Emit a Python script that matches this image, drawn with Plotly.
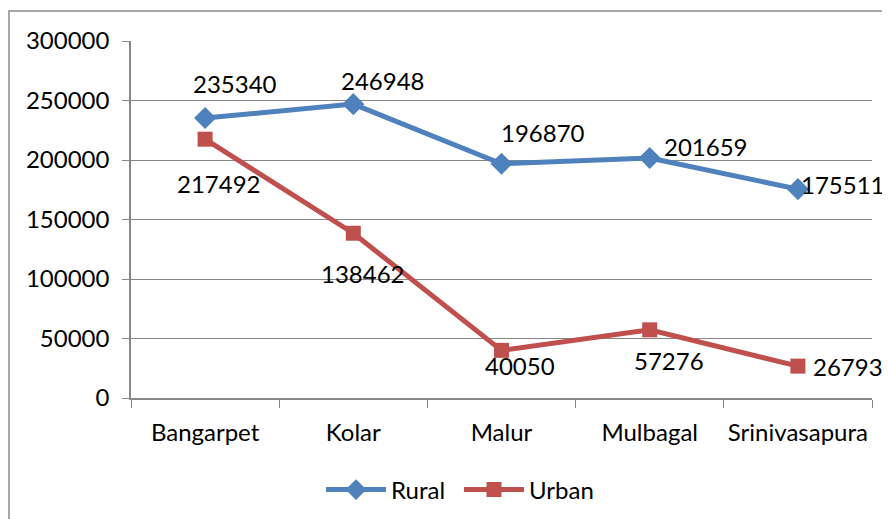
import plotly.graph_objects as go

categories = ["Bangarpet", "Kolar", "Malur", "Mulbagal", "Srinivasapura"]
rural = [235340, 246948, 196870, 201659, 175511]
urban = [217492, 138462, 40050, 57276, 26793]
y_ticks = [0, 50000, 100000, 150000, 200000, 250000, 300000]

BLUE = "#4F81BD"
RED = "#C0504D"
GRID = "#878787"
FONT = "Lato"
FS = 24

# figure-pixel geometry of the plot area
L, R, T, B = 123, 26, 33, 129
PW, PH = 890 - L - R, 519 - T - B

fig = go.Figure()
fig.add_trace(go.Scatter(x=categories, y=rural, name="Rural", mode="lines+markers",
                         line=dict(color=BLUE, width=5),
                         marker=dict(symbol="diamond", size=17, color=BLUE)))
fig.add_trace(go.Scatter(x=categories, y=urban, name="Urban", mode="lines+markers",
                         line=dict(color=RED, width=5),
                         marker=dict(symbol="square", size=15, color=RED)))

rural_off = [(30, 34), (30, 24), (41, 31), (56, 12), (45, 5)]
urban_off = [(14, -44), (10, -40), (18, -15), (19, -31), (50, 0)]
for vals, offs in ((rural, rural_off), (urban, urban_off)):
    for c, v, (dx, dy) in zip(categories, vals, offs):
        fig.add_annotation(x=c, y=v, text=str(v), showarrow=False,
                           xshift=dx, yshift=dy,
                           font=dict(family=FONT, size=FS, color="black"))

fig.add_shape(type="rect", xref="paper", yref="paper",
              x0=(1 - L) / PW, x1=1.2, y0=-0.6, y1=(PH + T - 3) / PH,
              line=dict(color="#8C8C8C", width=1.5), layer="below")

fig.update_layout(
    template="none",
    width=890, height=519,
    margin=dict(l=L, r=R, t=T, b=B, autoexpand=False),
    paper_bgcolor="white", plot_bgcolor="white",
    font=dict(family=FONT, size=FS, color="black"),
    showlegend=True,
    legend=dict(orientation="h", xref="container", yref="container",
                x=313 / 890, xanchor="left", y=1 - 482 / 519, yanchor="middle",
                entrywidth=63, entrywidthmode="pixels", itemwidth=60,
                font=dict(family=FONT, size=FS), bgcolor="rgba(0,0,0,0)"),
)
fig.update_xaxes(type="category", showline=True, linecolor=GRID, linewidth=1.5,
                 showgrid=False, ticks="outside", ticklen=8, tickcolor=GRID,
                 tickson="boundaries", ticklabelstandoff=12, tickangle=0,
                 range=[-0.5, 4.5], automargin=False)
fig.update_yaxes(range=[0, 300000], tickvals=y_ticks, ticktext=[str(t) for t in y_ticks],
                 showline=True, linecolor=GRID, linewidth=1.5,
                 showgrid=True, gridcolor=GRID, gridwidth=1.2,
                 ticks="outside", ticklen=7, tickcolor=GRID, ticklabelstandoff=8,
                 zeroline=False, automargin=False)

fig.write_html("out.html")
